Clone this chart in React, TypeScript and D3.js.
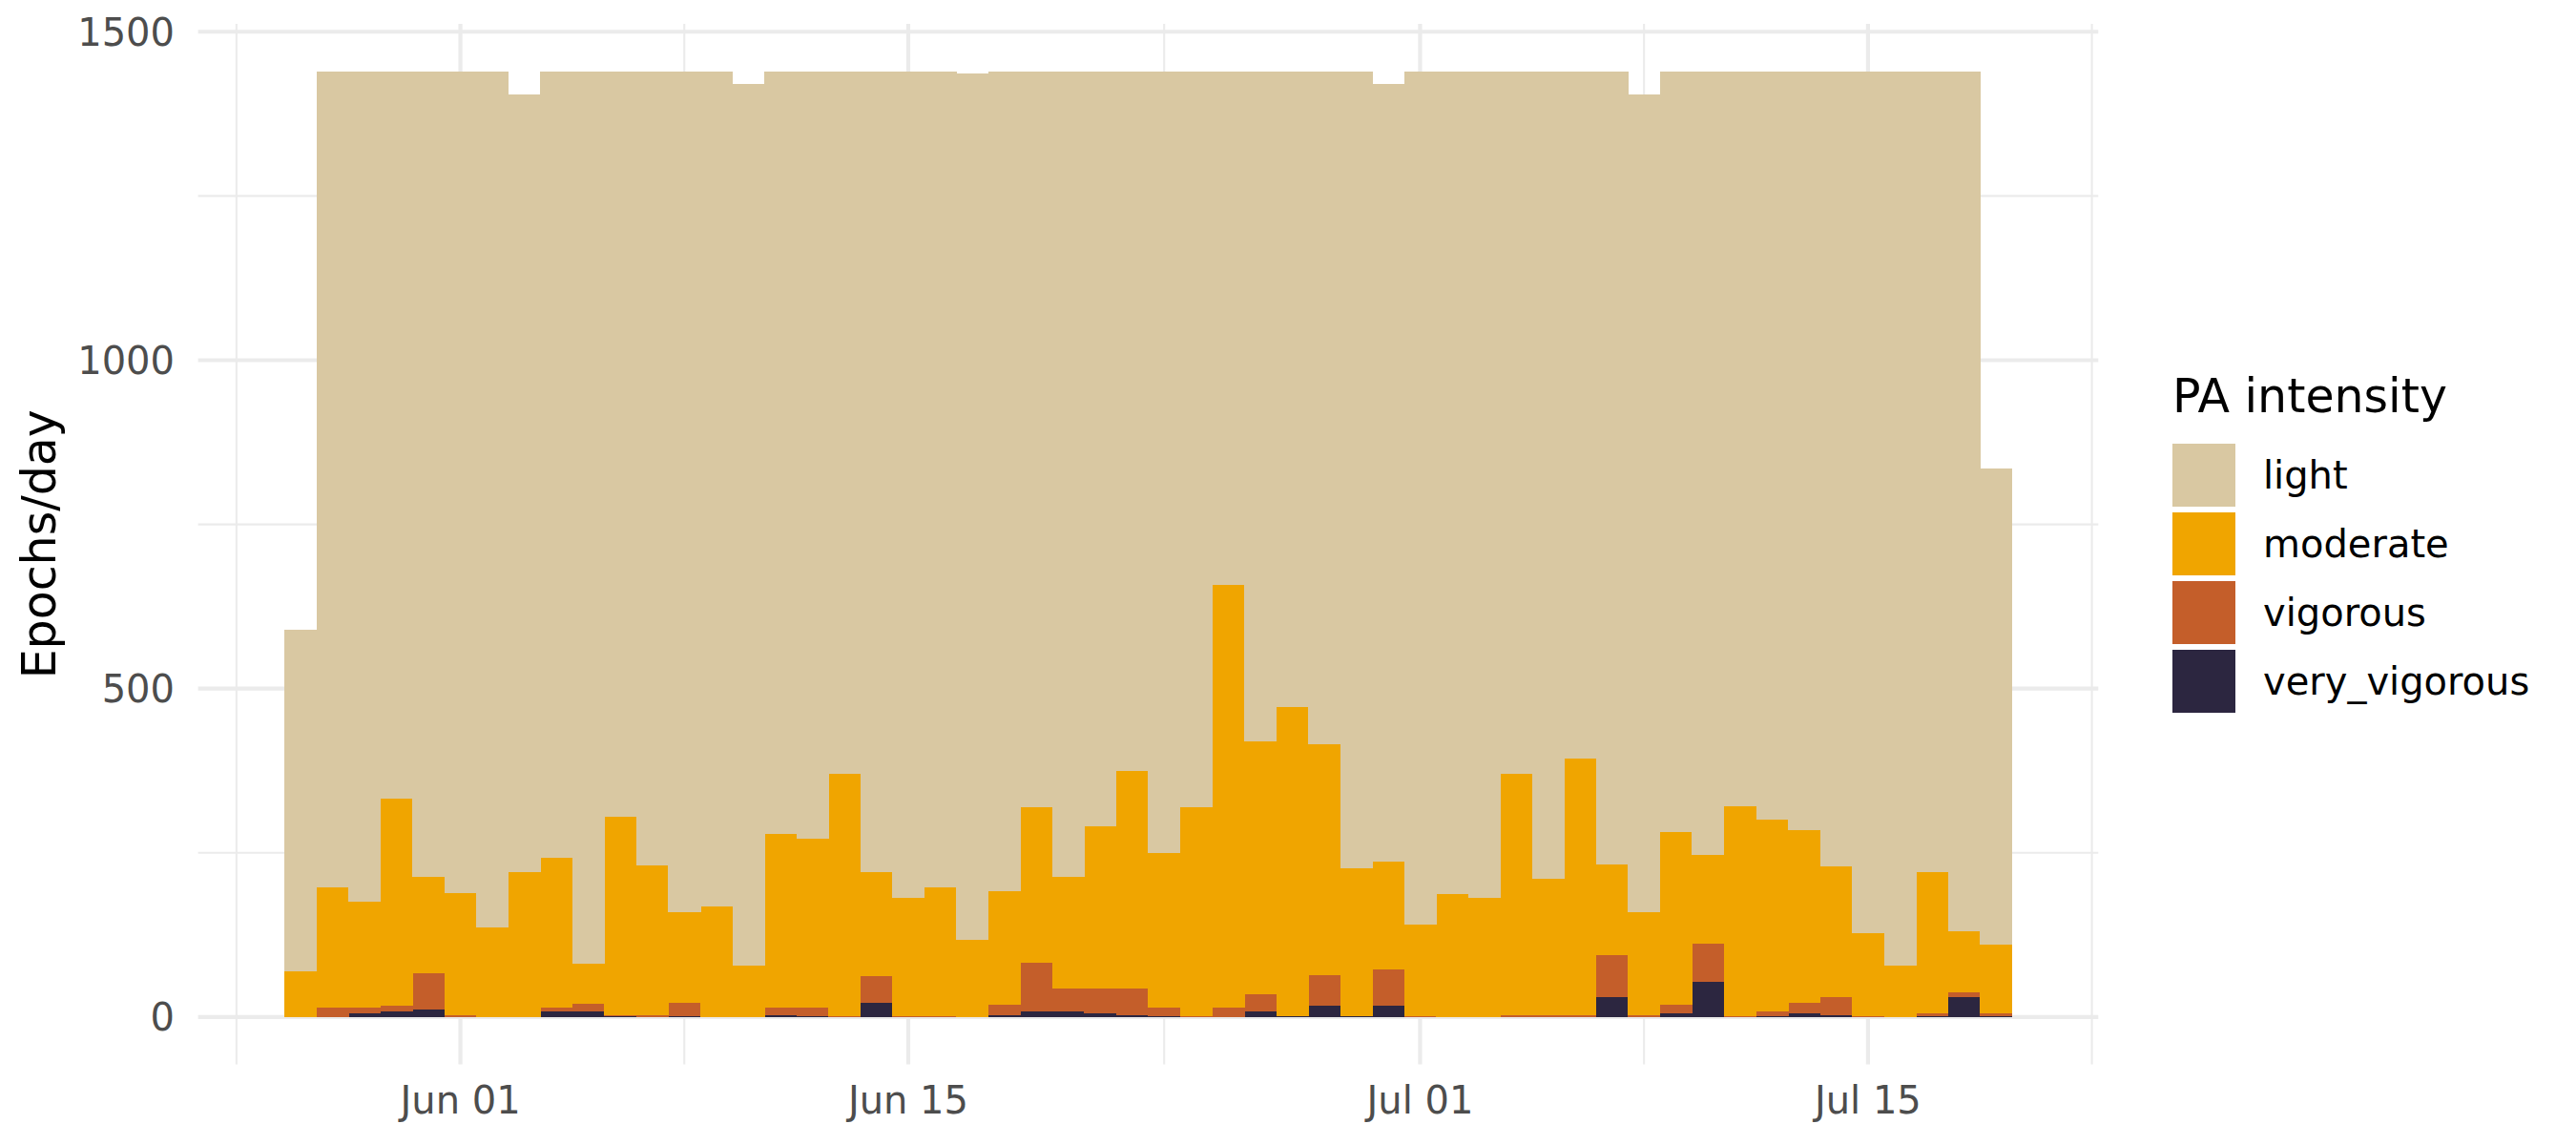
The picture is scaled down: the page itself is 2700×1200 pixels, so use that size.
import * as d3 from 'd3'
import { useEffect, useRef } from 'react'

// one bar per day, 2021-05-27 .. 2021-07-19
const days = [
  '05-27', '05-28', '05-29', '05-30', '05-31',
  '06-01', '06-02', '06-03', '06-04', '06-05', '06-06', '06-07', '06-08', '06-09', '06-10',
  '06-11', '06-12', '06-13', '06-14', '06-15', '06-16', '06-17', '06-18', '06-19', '06-20',
  '06-21', '06-22', '06-23', '06-24', '06-25', '06-26', '06-27', '06-28', '06-29', '06-30',
  '07-01', '07-02', '07-03', '07-04', '07-05', '07-06', '07-07', '07-08', '07-09', '07-10',
  '07-11', '07-12', '07-13', '07-14', '07-15', '07-16', '07-17', '07-18', '07-19',
]

const light = [
  519, 1242, 1265, 1108, 1227,
  1251, 1304, 1183, 1198, 1359, 1135, 1209, 1281, 1271, 1343,
  1161, 1169, 1069, 1220, 1259, 1243, 1319, 1248, 1120, 1227,
  1149, 1065, 1190, 1121, 782, 1020, 968, 1024, 1213, 1183,
  1299, 1252, 1259, 1069, 1230, 1047, 1207, 1245, 1158, 1193,
  1119, 1139, 1156, 1211, 1312, 1362, 1220, 1310, 724,
]
const moderate = [
  70, 183, 161, 315, 146,
  186, 136, 221, 228, 61, 302, 228, 137, 169, 78,
  264, 257, 370, 157, 180, 196, 118, 173, 237, 170,
  248, 332, 236, 318, 644, 385, 471, 352, 226, 164,
  140, 188, 181, 368, 207, 390, 138, 156, 263, 135,
  320, 293, 262, 198, 127, 78, 214, 92, 106,
]
const vigorous = [
  0, 15, 8, 9, 55,
  3, 0, 0, 6, 12, 2, 3, 20, 0, 0,
  12, 13, 1, 42, 1, 1, 0, 16, 74, 34,
  37, 40, 12, 1, 14, 27, 0, 46, 0, 56,
  1, 0, 0, 3, 3, 3, 65, 3, 13, 58,
  1, 7, 16, 28, 1, 0, 5, 8, 4,
]
const veryVigorous = [
  0, 0, 6, 8, 12,
  0, 0, 0, 8, 8, 1, 0, 2, 0, 0,
  3, 1, 0, 21, 0, 0, 0, 3, 9, 9,
  6, 3, 2, 0, 0, 8, 1, 18, 1, 17,
  0, 0, 0, 0, 0, 0, 30, 0, 6, 54,
  0, 1, 6, 3, 0, 0, 1, 30, 1,
]

const levels = ['light', 'moderate', 'vigorous', 'very_vigorous']
const levelColors = ['#d9c8a2', '#f0a500', '#c45e2a', '#2c2640']

const yMajor = [0, 500, 1000, 1500]
const yMinor = [250, 750, 1250]
const xMajor = ['2021-06-01', '2021-06-15', '2021-07-01', '2021-07-15']
const xMinor = ['2021-05-25', '2021-06-08', '2021-06-23', '2021-07-08', '2021-07-22']

const W = 2700
const H = 1200
const FONT = 'DejaVu Sans, sans-serif'

const App = () => {
  const ref = useRef<SVGSVGElement>(null)

  useEffect(() => {
    const svg = d3.select(ref.current)
    svg.selectAll('*').remove()

    const parse = d3.utcParse('%Y-%m-%d')
    const dates = days.map(d => parse(`2021-${d}`)!)
    const rows = dates.map((date, i) => ({
      date,
      light: light[i],
      moderate: moderate[i],
      vigorous: vigorous[i],
      very_vigorous: veryVigorous[i],
    }))

    const pad = 3.2 * 864e5
    const x = d3.scaleUtc()
      .domain([+dates[0] - pad, +dates[dates.length - 1] + pad])
      .range([207.6, 2199.3])
    const y = d3.scaleLinear()
      .domain([-72, 1512])
      .range([1115.5, 25])

    const color = d3.scaleOrdinal<string, string>().domain(levels).range(levelColors)

    svg.append('rect').attr('width', W).attr('height', H).attr('fill', '#ffffff')

    const grid = svg.append('g').attr('stroke', '#ebebeb')
    const [x0, x1] = x.range()
    const [yb, yt] = y.range()

    grid.selectAll('.ymin').data(yMinor).join('line')
      .attr('x1', x0).attr('x2', x1).attr('y1', d => y(d)).attr('y2', d => y(d))
      .attr('stroke-width', 2.1)
    grid.selectAll('.xmin').data(xMinor.map(d => parse(d)!)).join('line')
      .attr('x1', d => x(d)).attr('x2', d => x(d)).attr('y1', yb).attr('y2', yt)
      .attr('stroke-width', 2.1)
    grid.selectAll('.ymaj').data(yMajor).join('line')
      .attr('x1', x0).attr('x2', x1).attr('y1', d => y(d)).attr('y2', d => y(d))
      .attr('stroke-width', 4.2)
    grid.selectAll('.xmaj').data(xMajor.map(d => parse(d)!)).join('line')
      .attr('x1', d => x(d)).attr('x2', d => x(d)).attr('y1', yb).attr('y2', yt)
      .attr('stroke-width', 4.2)

    // stacked bars: very_vigorous at the bottom, light on top
    const stack = d3.stack<any>().keys([...levels].reverse())
    const series = stack(rows)

    svg.append('g')
      .attr('shape-rendering', 'crispEdges')
      .selectAll('g')
      .data(series)
      .join('g')
      .attr('fill', s => color(s.key))
      .selectAll('rect')
      .data(s => s)
      .join('rect')
      .attr('x', d => x(d3.utcHour.offset(d.data.date, -12)))
      .attr('width', d => x(d3.utcHour.offset(d.data.date, 12)) - x(d3.utcHour.offset(d.data.date, -12)) + 0.5)
      .attr('y', d => y(d[1]))
      .attr('height', d => Math.max(0, y(d[0]) - y(d[1])))

    // y axis labels
    svg.append('g')
      .selectAll('text')
      .data(yMajor)
      .join('text')
      .attr('x', 183)
      .attr('y', d => y(d) + 14.5)
      .attr('text-anchor', 'end')
      .attr('font-family', FONT)
      .attr('font-size', 40)
      .attr('fill', '#4d4d4d')
      .text(d => d)

    // x axis labels
    const fmt = d3.utcFormat('%b %d')
    svg.append('g')
      .selectAll('text')
      .data(xMajor.map(d => parse(d)!))
      .join('text')
      .attr('x', d => x(d))
      .attr('y', 1167)
      .attr('text-anchor', 'middle')
      .attr('font-family', FONT)
      .attr('font-size', 40)
      .attr('fill', '#4d4d4d')
      .text(d => fmt(d))

    svg.append('text')
      .attr('transform', `translate(58,${(yb + yt) / 2}) rotate(-90)`)
      .attr('text-anchor', 'middle')
      .attr('font-family', FONT)
      .attr('font-size', 49)
      .attr('fill', '#000000')
      .text('Epochs/day')

    // legend
    const legend = svg.append('g').attr('transform', 'translate(2277,0)')
    legend.append('text')
      .attr('x', 0)
      .attr('y', 431.7)
      .attr('font-family', FONT)
      .attr('font-size', 49)
      .attr('fill', '#000000')
      .text('PA intensity')

    const item = legend.selectAll('g.item')
      .data(levels)
      .join('g')
      .attr('transform', (_, i) => `translate(0,${465 + i * 72})`)
    item.append('rect')
      .attr('width', 66)
      .attr('height', 66)
      .attr('fill', d => color(d))
    item.append('text')
      .attr('x', 95)
      .attr('y', 33 + 14)
      .attr('font-family', FONT)
      .attr('font-size', 40)
      .attr('fill', '#000000')
      .text(d => d)
  }, [])

  return (
    <div style={{ position: 'absolute', left: 0, top: 0 }}>
      <svg ref={ref} width={W} height={H} style={{ display: 'block' }} />
    </div>
  )
}

export default App
